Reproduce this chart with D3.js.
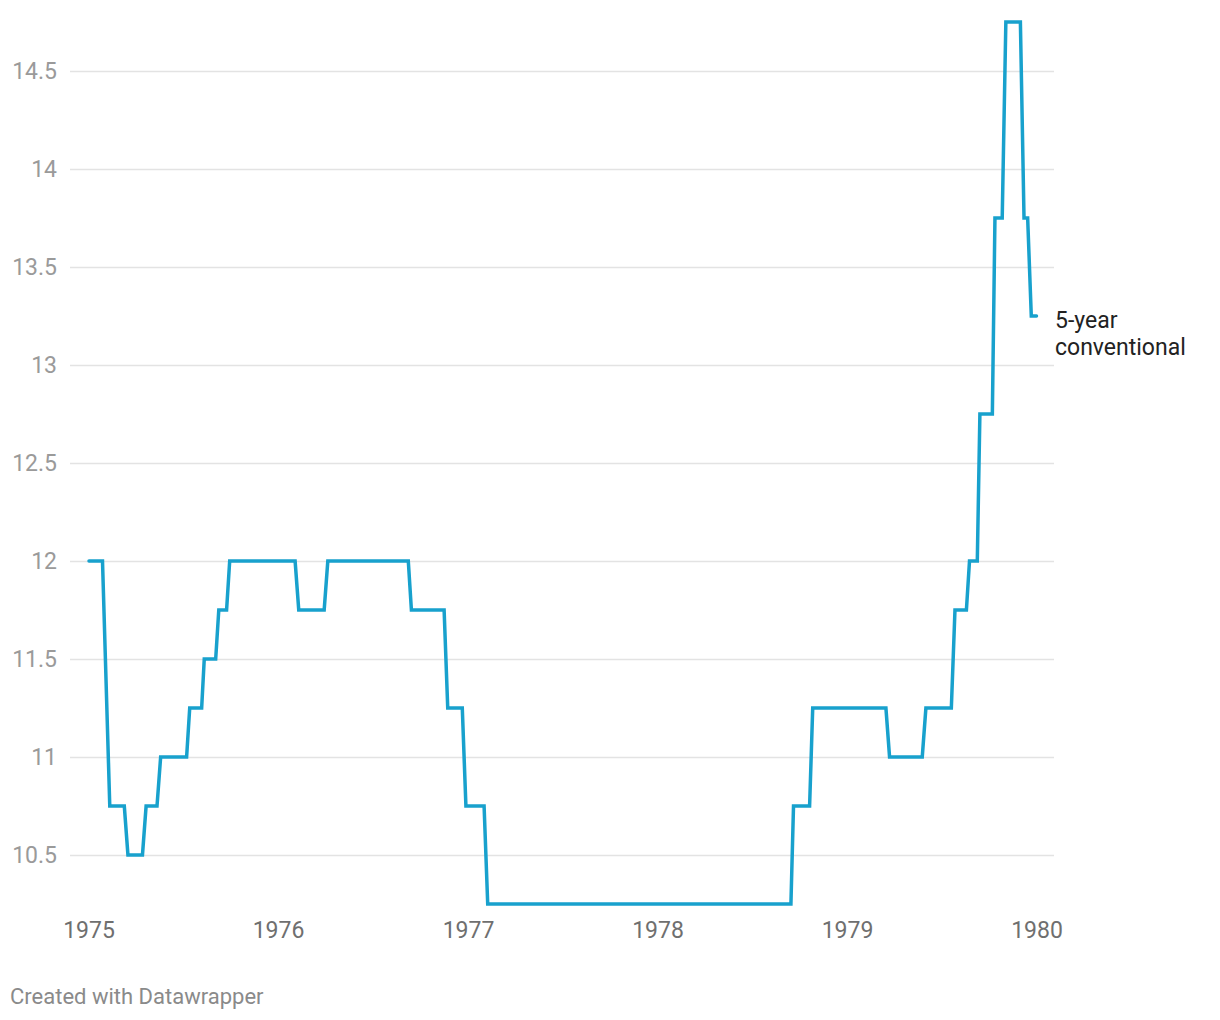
<!DOCTYPE html>
<html>
<head>
<meta charset="utf-8">
<script src="https://cdn.jsdelivr.net/npm/d3@7"></script>
<style>
  body { margin: 0; background: #fff; font-family: Roboto, sans-serif; }
</style>
</head>
<body>
<div id="chart"></div>
<script>
// Data (5-year conventional mortgage rate, %)
var dates = [
  '1975-01-01', '1975-01-27', '1975-02-10', '1975-03-10', '1975-03-17', '1975-04-14',
  '1975-04-21', '1975-05-12', '1975-05-19', '1975-07-08', '1975-07-14', '1975-08-06',
  '1975-08-11', '1975-09-02', '1975-09-08', '1975-09-23', '1975-09-29', '1976-02-02',
  '1976-02-09', '1976-03-29', '1976-04-05', '1976-09-07', '1976-09-13', '1976-11-15',
  '1976-11-22', '1976-12-20', '1976-12-27', '1977-01-31', '1977-02-07', '1978-09-14',
  '1978-09-19', '1978-10-20', '1978-10-26', '1979-03-16', '1979-03-23', '1979-05-25',
  '1979-06-01', '1979-07-20', '1979-07-27', '1979-08-18', '1979-08-24', '1979-09-08',
  '1979-09-13', '1979-10-07', '1979-10-12', '1979-10-26', '1979-11-02', '1979-11-30',
  '1979-12-07', '1979-12-14', '1979-12-21', '1979-12-31'
];
var rates = [
  12, 12, 10.75, 10.75, 10.5, 10.5,
  10.75, 10.75, 11, 11, 11.25, 11.25,
  11.5, 11.5, 11.75, 11.75, 12, 12,
  11.75, 11.75, 12, 12, 11.75, 11.75,
  11.25, 11.25, 10.75, 10.75, 10.25, 10.25,
  10.75, 10.75, 11.25, 11.25, 11, 11,
  11.25, 11.25, 11.75, 11.75, 12, 12,
  12.75, 12.75, 13.75, 13.75, 14.75, 14.75,
  13.75, 13.75, 13.25, 13.25
];
var y_ticks = [10.5, 11, 11.5, 12, 12.5, 13, 13.5, 14, 14.5];
var x_ticks = [1975, 1976, 1977, 1978, 1979, 1980];
var series_label = ['5-year', 'conventional'];

var chart_width  = 1220;
var chart_height = 1020;

var parse = d3.timeParse('%Y-%m-%d');
var data = dates.map(function(d, i){
  return { date: parse(d), value: rates[i] };
});

var x = d3.scaleTime()
  .domain([new Date(1975, 0, 1), new Date(1980, 0, 1)])
  .range([89, 1037]);

var y = d3.scaleLinear()
  .domain([10.25, 14.75])
  .range([904, 22]);

var svg = d3.select('#chart')
  .append('svg')
  .attr('width', chart_width)
  .attr('height', chart_height);

// grid lines + y labels
var grid = svg.append('g');
grid.selectAll('line')
  .data(y_ticks)
  .enter()
  .append('line')
  .attr('x1', 70)
  .attr('x2', 1054)
  .attr('y1', function(d){ return Math.round(y(d)) + 0.5; })
  .attr('y2', function(d){ return Math.round(y(d)) + 0.5; })
  .attr('stroke', '#e3e3e3')
  .attr('stroke-width', 1.3);

grid.selectAll('text')
  .data(y_ticks)
  .enter()
  .append('text')
  .attr('x', 57)
  .attr('y', function(d){ return y(d); })
  .attr('dy', '0.36em')
  .attr('text-anchor', 'end')
  .attr('fill', '#9a9a9a')
  .attr('font-size', 23)
  .text(function(d){ return d; });

// x labels
svg.append('g')
  .selectAll('text')
  .data(x_ticks)
  .enter()
  .append('text')
  .attr('x', function(d){ return x(new Date(d, 0, 1)); })
  .attr('y', 938)
  .attr('text-anchor', 'middle')
  .attr('fill', '#6f6f6f')
  .attr('font-size', 23)
  .text(function(d){ return d; });

// line
var line = d3.line()
  .x(function(d){ return x(d.date); })
  .y(function(d){ return y(d.value); });

svg.append('path')
  .datum(data)
  .attr('d', line)
  .attr('fill', 'none')
  .attr('stroke', '#18a1cd')
  .attr('stroke-width', 3.5)
  .attr('stroke-linecap', 'round');

// series label
var last = data[data.length - 1];
svg.append('text')
  .attr('x', 1055)
  .attr('y', y(last.value))
  .attr('fill', '#222')
  .attr('font-size', 23)
  .selectAll('tspan')
  .data(series_label)
  .enter()
  .append('tspan')
  .attr('x', 1055)
  .attr('dy', function(d, i){ return i === 0 ? '0.5em' : '1.2em'; })
  .text(function(d){ return d; });

// credit
svg.append('text')
  .attr('x', 10)
  .attr('y', 1004)
  .attr('fill', '#8a8a8a')
  .attr('font-size', 22)
  .text('Created with Datawrapper');
</script>
</body>
</html>
